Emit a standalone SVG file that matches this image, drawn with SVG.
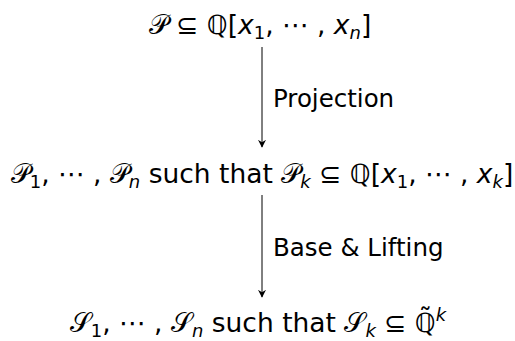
<svg xmlns="http://www.w3.org/2000/svg" width="515" height="341" viewBox="0 0 515 341">
<defs>
<style>
text{font-family:"DejaVu Sans","Liberation Sans",sans-serif;font-size:26.5px;fill:#000}
.lbl{font-size:24.5px}
.it{font-style:italic}
.sub{font-size:18px}
</style>
<marker id="ah" viewBox="0 0 10 10" refX="9" refY="5" markerWidth="8" markerHeight="8" orient="auto" markerUnits="userSpaceOnUse">
<path d="M0,0 L10,5 L0,10 L3,5 Z" fill="#000"/>
</marker>
</defs>
<rect width="515" height="341" fill="#fff"/>
<g id="node-top">
<text x="260" y="34" text-anchor="middle"><tspan>𝒫 ⊆ ℚ[</tspan><tspan class="it">x</tspan><tspan class="sub" dy="5">1</tspan><tspan dy="-5">, ⋯ , </tspan><tspan class="it">x</tspan><tspan class="sub it" dy="5">n</tspan><tspan dy="-5">]</tspan></text>
</g>
<g id="node-mid">
<text x="262" y="183" text-anchor="middle"><tspan>𝒫</tspan><tspan class="sub" dy="5">1</tspan><tspan dy="-5">, ⋯ , 𝒫</tspan><tspan class="sub it" dy="5">n</tspan><tspan dy="-5"> such that 𝒫</tspan><tspan class="sub it" dy="5">k</tspan><tspan dy="-5"> ⊆ ℚ[</tspan><tspan class="it">x</tspan><tspan class="sub" dy="5">1</tspan><tspan dy="-5">, ⋯ , </tspan><tspan class="it">x</tspan><tspan class="sub it" dy="5">k</tspan><tspan dy="-5">]</tspan></text>
</g>
<g id="node-bot">
<text x="258" y="332" text-anchor="middle"><tspan>𝒮</tspan><tspan class="sub" dy="5">1</tspan><tspan dy="-5">, ⋯ , 𝒮</tspan><tspan class="sub it" dy="5">n</tspan><tspan dy="-5"> such that 𝒮</tspan><tspan class="sub it" dy="5">k</tspan><tspan dy="-5"> ⊆ ℚ̃</tspan><tspan class="sub it" dy="-11">k</tspan></text>
</g>
<g id="connectors" stroke="#000" stroke-width="1" fill="none">
<line x1="262" y1="47" x2="262" y2="147" marker-end="url(#ah)"/>
<line x1="262" y1="195" x2="262" y2="297" marker-end="url(#ah)"/>
</g>
<g id="labels">
<text class="lbl" x="273" y="107">Projection</text>
<text class="lbl" x="273" y="256">Base &amp; Lifting</text>
</g>
</svg>
